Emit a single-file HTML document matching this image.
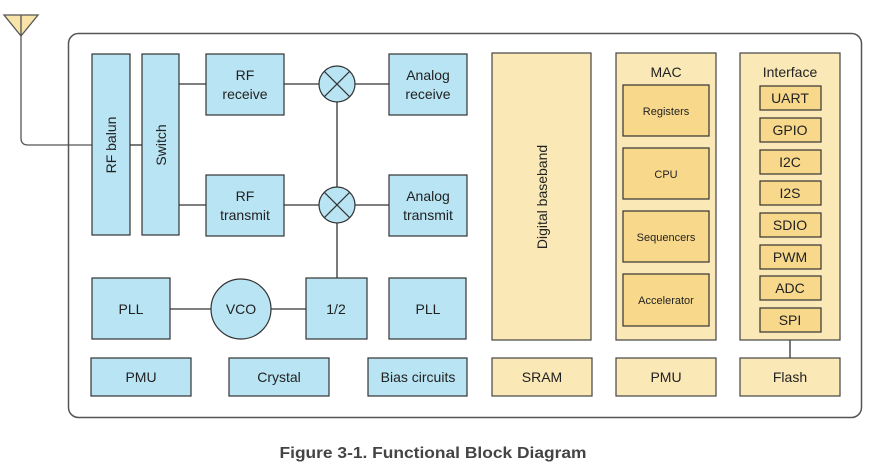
<!DOCTYPE html>
<html><head><meta charset="utf-8"><style>
html,body{margin:0;padding:0;background:#fff;}
svg{display:block;}
text{font-family:"Liberation Sans",Arial,sans-serif;fill:#222;}
</style></head><body>
<svg width="880" height="475" viewBox="0 0 880 475" xmlns="http://www.w3.org/2000/svg">
<g stroke="#333" stroke-width="1.3" fill="none">
<rect x="68.5" y="33.5" width="793" height="384" rx="10" stroke="#555" stroke-width="1.5"/>
<polygon points="4,15 38,15 21,36" fill="#f8e4a8" stroke="#555"/>
<line x1="21" y1="15" x2="21" y2="36" stroke="#555"/>
<path d="M21 36 V138 Q21 145 28 145 H92" stroke="#555"/>
<line x1="130" y1="145" x2="142" y2="145"/>
<line x1="179" y1="84" x2="206" y2="84"/>
<line x1="179" y1="205" x2="206" y2="205"/>
<line x1="284" y1="84" x2="389" y2="84"/>
<line x1="284" y1="205" x2="389" y2="205"/>
<line x1="337" y1="84" x2="337" y2="278"/>
<line x1="170" y1="309" x2="306" y2="309"/>
<line x1="790" y1="332" x2="790" y2="358"/>
</g>
<g stroke="#333" stroke-width="1.2" fill="#b8e4f3">
<rect x="92" y="54" width="38" height="181"/>
<rect x="142" y="54" width="37" height="181"/>
<rect x="206" y="54" width="78" height="61"/>
<rect x="206" y="175" width="78" height="61"/>
<rect x="389" y="54" width="78" height="61"/>
<rect x="389" y="175" width="78" height="61"/>
<circle cx="337" cy="84" r="18"/>
<circle cx="337" cy="205" r="18"/>
<rect x="92" y="278" width="78" height="61"/>
<circle cx="241" cy="309" r="30"/>
<rect x="306" y="278" width="61" height="61"/>
<rect x="389" y="278" width="77" height="61"/>
<rect x="91" y="358" width="100" height="38"/>
<rect x="229" y="358" width="100" height="38"/>
<rect x="368" y="358" width="99" height="38"/>
</g>
<g stroke="#333" stroke-width="1.2">
<line x1="324.3" y1="71.3" x2="349.7" y2="96.7"/><line x1="349.7" y1="71.3" x2="324.3" y2="96.7"/>
<line x1="324.3" y1="192.3" x2="349.7" y2="217.7"/><line x1="349.7" y1="192.3" x2="324.3" y2="217.7"/>
</g>
<g stroke="#444" stroke-width="1.2" fill="#fae8b6">
<rect x="492" y="53" width="99" height="287"/>
<rect x="616" y="53" width="100" height="287"/>
<rect x="740" y="53" width="100" height="287"/>
<rect x="492" y="358" width="100" height="38"/>
<rect x="616" y="358" width="100" height="38"/>
<rect x="740" y="358" width="100" height="38"/>
</g>
<g stroke="#333" stroke-width="1.2" fill="#f8d98c">
<rect x="623" y="85" width="86" height="51"/>
<rect x="623" y="148" width="86" height="51"/>
<rect x="623" y="211" width="86" height="51"/>
<rect x="623" y="274" width="86" height="52"/>
<rect x="760" y="86" width="61" height="24"/>
<rect x="760" y="118" width="61" height="24"/>
<rect x="760" y="150" width="61" height="24"/>
<rect x="760" y="181" width="61" height="24"/>
<rect x="760" y="213" width="61" height="24"/>
<rect x="760" y="245" width="61" height="24"/>
<rect x="760" y="276" width="61" height="24"/>
<rect x="760" y="308" width="61" height="24"/>
</g>
<g font-size="14" text-anchor="middle">
<text transform="translate(116,145) rotate(-90)">RF balun</text>
<text transform="translate(166,145) rotate(-90)">Switch</text>
<text x="245" y="80">RF</text><text x="245" y="99">receive</text>
<text x="245" y="201">RF</text><text x="245" y="220">transmit</text>
<text x="428" y="80">Analog</text><text x="428" y="99">receive</text>
<text x="428" y="201">Analog</text><text x="428" y="220">transmit</text>
<text x="131" y="314">PLL</text>
<text x="241" y="314">VCO</text>
<text x="336" y="314">1/2</text>
<text x="428" y="314">PLL</text>
<text x="141" y="382">PMU</text>
<text x="279" y="382">Crystal</text>
<text x="418" y="382">Bias circuits</text>
<text transform="translate(547,197) rotate(-90)">Digital baseband</text>
<text x="666" y="77">MAC</text>
<text x="790" y="77">Interface</text>
<text x="542" y="382">SRAM</text>
<text x="666" y="382">PMU</text>
<text x="790" y="382">Flash</text>
</g>
<g font-size="11" text-anchor="middle">
<text x="666" y="115">Registers</text>
<text x="666" y="178">CPU</text>
<text x="666" y="241">Sequencers</text>
<text x="666" y="304">Accelerator</text>
</g>
<g font-size="14" text-anchor="middle">
<text x="790" y="103">UART</text>
<text x="790" y="135">GPIO</text>
<text x="790" y="167">I2C</text>
<text x="790" y="198">I2S</text>
<text x="790" y="230">SDIO</text>
<text x="790" y="262">PWM</text>
<text x="790" y="293">ADC</text>
<text x="790" y="325">SPI</text>
</g>
<text x="433" y="458" font-size="16" font-weight="bold" text-anchor="middle" textLength="307" lengthAdjust="spacingAndGlyphs" style="fill:#444">Figure 3-1. Functional Block Diagram</text>
</svg>
</body></html>
